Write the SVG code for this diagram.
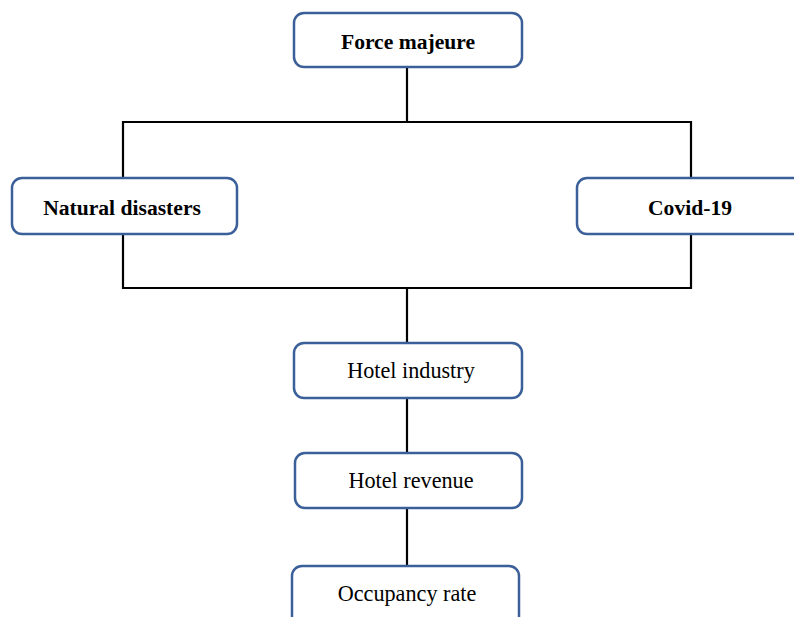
<svg xmlns="http://www.w3.org/2000/svg" width="794" height="617" viewBox="0 0 794 617">
<style>
.box{fill:#fff;stroke:#3b5f99;stroke-width:2.5}
.ln{stroke:#000;stroke-width:2.2;fill:none}
.b{font-family:"Liberation Serif",serif;font-weight:bold;font-size:21.6px;text-anchor:middle;fill:#000}
.r{font-family:"Liberation Serif",serif;font-size:22.2px;text-anchor:middle;fill:#000}
</style>
<rect width="794" height="617" fill="#fff"/>
<g id="connectors">
<line class="ln" x1="407" y1="67" x2="407" y2="122"/>
<polyline class="ln" points="123,178 123,122 691,122 691,178"/>
<polyline class="ln" points="123,234 123,288 691,288 691,234"/>
<line class="ln" x1="407" y1="288" x2="407" y2="343"/>
<line class="ln" x1="407" y1="398" x2="407" y2="453"/>
<line class="ln" x1="407" y1="508" x2="407" y2="566"/>
</g>
<g id="force-majeure">
<rect class="box" x="294" y="13" width="228" height="54" rx="10"/>
<text class="b" x="408" y="49">Force majeure</text>
</g>
<g id="natural-disasters">
<rect class="box" x="12" y="178" width="225" height="56" rx="10"/>
<text class="b" x="122" y="215">Natural disasters</text>
</g>
<g id="covid-19">
<rect class="box" x="577" y="178" width="226" height="56" rx="10"/>
<text class="b" x="690" y="215">Covid-19</text>
</g>
<g id="hotel-industry">
<rect class="box" x="294" y="343" width="228" height="55" rx="10"/>
<text class="r" x="411" y="378">Hotel industry</text>
</g>
<g id="hotel-revenue">
<rect class="box" x="295" y="453" width="227" height="55" rx="10"/>
<text class="r" x="411" y="488">Hotel revenue</text>
</g>
<g id="occupancy-rate">
<rect class="box" x="292" y="566" width="227" height="60" rx="10"/>
<text class="r" x="407" y="601">Occupancy rate</text>
</g>
</svg>
